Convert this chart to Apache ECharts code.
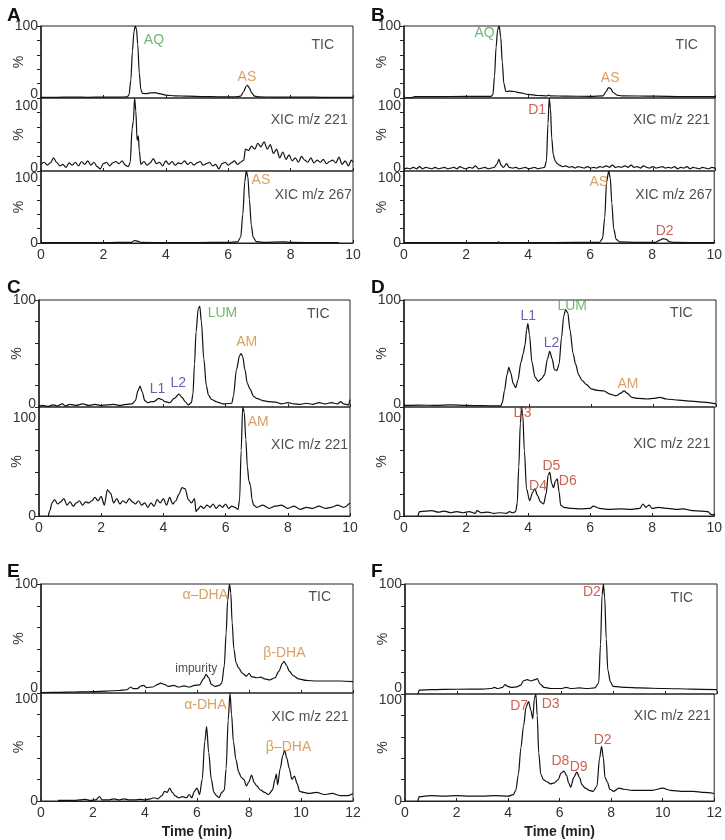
<!DOCTYPE html>
<html><head><meta charset="utf-8">
<script src="https://cdn.jsdelivr.net/npm/echarts@6/dist/echarts.min.js"></script>
<style>html,body{margin:0;padding:0;background:#fff}#c{width:725px;height:840px}</style>
</head><body><div id="c"></div>
<script>
// ---------- DATA (time in min, intensity in %) ----------
const X_TICKS_10 = [0, 2, 4, 6, 8, 10];
const X_TICKS_12 = [0, 2, 4, 6, 8, 10, 12];
const Y_TICKS = [0, 20, 40, 60, 80, 100];

const A_TIC = [[0,1],[0.5,1],[1,1.2],[1.5,1],[2,1.2],[2.5,1.3],[2.75,1.5],[2.82,4],[2.88,25],[2.93,65],[2.98,92],[3.02,100],[3.06,96],[3.1,75],[3.15,35],[3.2,12],[3.25,6.5],[3.35,6],[3.5,7],[3.65,7.5],[3.8,6],[4.0,4],[4.3,3],[4.7,2.5],[5.2,2],[5.7,1.6],[6.2,1.5],[6.4,2.5],[6.5,9],[6.57,16],[6.62,17.5],[6.68,14],[6.75,7],[6.85,2.5],[7,1.5],[7.5,1.3],[8,1.2],[8.5,1.2],[9,1],[9.5,1],[10,1]];
const A_XIC221 = [[0,9],[0.1,12],[0.2,8],[0.3,11],[0.4,18],[0.5,12],[0.6,7],[0.7,9],[0.8,5],[0.9,11],[1.0,8],[1.1,12],[1.2,7],[1.3,13],[1.4,9],[1.5,14],[1.6,8],[1.7,12],[1.8,6],[1.9,3],[2.0,10],[2.1,12],[2.2,7],[2.3,11],[2.4,13],[2.5,10],[2.6,14],[2.7,8],[2.8,6],[2.86,12],[2.92,58],[2.96,68],[3.0,100],[3.04,82],[3.08,42],[3.12,48],[3.15,28],[3.2,9],[3.3,13],[3.4,8],[3.5,11],[3.6,17],[3.7,10],[3.8,12],[3.9,7],[4.0,14],[4.1,9],[4.2,13],[4.3,8],[4.4,11],[4.5,10],[4.6,14],[4.7,9],[4.8,12],[4.9,8],[5.0,11],[5.1,13],[5.2,8],[5.3,10],[5.4,12],[5.5,7],[5.6,9],[5.7,3],[5.8,10],[5.9,12],[6.0,8],[6.1,11],[6.2,14],[6.3,9],[6.4,12],[6.5,15],[6.55,30],[6.65,28],[6.75,34],[6.85,30],[6.95,38],[7.05,33],[7.15,40],[7.25,30],[7.35,36],[7.45,24],[7.55,30],[7.65,18],[7.75,26],[7.85,16],[7.95,22],[8.05,14],[8.15,18],[8.25,12],[8.35,20],[8.45,15],[8.55,12],[8.65,18],[8.75,11],[8.85,15],[8.95,12],[9.05,16],[9.15,10],[9.25,13],[9.35,15],[9.45,11],[9.55,19],[9.65,9],[9.75,14],[9.85,7],[9.95,15],[10,12]];
const A_XIC267 = [[0,0.5],[1,0.5],[2,0.5],[2.9,1],[3.0,3.5],[3.1,2.5],[3.2,0.8],[4,0.6],[5,0.7],[6,0.8],[6.3,1.5],[6.4,8],[6.47,40],[6.53,85],[6.58,100],[6.63,92],[6.68,60],[6.74,25],[6.8,8],[6.9,2],[7.1,1],[7.8,1.5],[8,0.8],[9,0.6],[9.55,0.5]];

const B_TIC = [[0,0],[0.25,0.5],[0.35,2],[1,2],[2,2.2],[2.8,2.3],[2.86,5],[2.91,30],[2.96,70],[3.01,95],[3.06,100],[3.11,85],[3.16,50],[3.21,20],[3.28,9],[3.4,9.5],[3.55,9],[3.7,7.5],[4.0,5],[4.3,3.5],[4.6,3],[4.65,4],[4.7,3],[5.2,2.5],[6.0,2.3],[6.4,3],[6.5,9],[6.58,14.5],[6.65,13],[6.72,8],[6.85,4],[7,3],[8,2.5],[9,2],[10,2]];
const B_XIC221 = [[0,3],[0.1,4],[0.2,3],[0.3,5],[0.4,3],[0.5,6],[0.6,3],[0.7,5],[0.8,4],[0.9,3],[1.0,5],[1.1,3],[1.2,4],[1.3,5],[1.4,3],[1.5,4],[1.6,5],[1.7,3],[1.8,6],[1.9,4],[2.0,3],[2.1,5],[2.2,4],[2.3,7],[2.4,3],[2.5,4],[2.6,5],[2.7,3],[2.8,4],[2.9,5],[2.98,9],[3.05,16],[3.12,8],[3.2,5],[3.3,10],[3.38,5],[3.5,4],[3.6,5],[3.7,3],[3.8,4],[3.9,5],[4.0,3],[4.1,4],[4.2,5],[4.3,3],[4.4,4],[4.52,5],[4.58,14],[4.63,65],[4.67,100],[4.71,85],[4.75,45],[4.8,22],[4.86,14],[4.93,10],[5.0,8],[5.1,6],[5.2,7],[5.3,5],[5.4,6],[5.5,4],[5.6,6],[5.7,5],[5.8,4],[5.9,6],[6.0,4],[6.1,5],[6.2,4],[6.3,6],[6.4,5],[6.5,7],[6.6,5],[6.7,8],[6.8,5],[6.9,6],[7.0,5],[7.1,7],[7.2,5],[7.3,8],[7.4,5],[7.5,6],[7.6,4],[7.7,7],[7.8,5],[7.9,4],[8.0,6],[8.1,4],[8.2,5],[8.3,6],[8.4,4],[8.5,5],[8.6,4],[8.7,6],[8.8,3],[8.9,5],[9.0,4],[9.1,6],[9.2,3],[9.3,5],[9.4,4],[9.5,3],[9.6,5],[9.7,4],[9.8,3],[9.9,5],[10,4]];
const B_XIC267 = [[0,0.5],[3.0,0.5],[3.05,1.5],[3.1,0.5],[4.8,0.7],[6.3,1],[6.4,6],[6.47,35],[6.53,85],[6.6,100],[6.65,90],[6.7,55],[6.76,20],[6.84,5],[6.95,1.5],[7.5,0.8],[8.1,1],[8.25,4],[8.35,6],[8.45,5],[8.55,2],[8.7,0.8],[10,0.5]];

const C_TIC = [[0,0.5],[0.1,1.5],[0.3,0.5],[0.45,2],[0.6,1],[0.75,3],[0.85,1],[1.0,2.5],[1.2,1.5],[1.4,3],[1.6,1.5],[1.8,2.5],[2.0,1.5],[2.2,2],[2.4,2.5],[2.6,1.5],[2.8,2.5],[3.0,3],[3.1,6],[3.18,15],[3.25,19.5],[3.32,14],[3.4,6],[3.5,4],[3.6,5],[3.7,5],[3.85,8],[3.95,7],[4.05,5],[4.2,4],[4.35,8],[4.5,12],[4.6,9],[4.7,5],[4.8,2],[4.9,4],[4.95,12],[5.0,40],[5.05,70],[5.12,92],[5.17,94],[5.22,80],[5.3,45],[5.38,20],[5.45,11],[5.55,7],[5.7,5],[5.8,4],[5.9,3],[6.0,3],[6.2,3.5],[6.25,10],[6.35,35],[6.45,48],[6.5,50],[6.55,47],[6.62,35],[6.7,22],[6.78,17],[6.9,10],[7.0,8],[7.2,6],[7.4,5],[7.6,4.5],[7.8,3],[8.0,4],[8.2,3],[8.4,2.5],[8.6,3.5],[8.8,2.5],[9.0,4],[9.2,3],[9.4,4],[9.6,3],[9.7,5],[9.8,3],[9.95,2],[10,7]];
const C_XIC221 = [[0.3,0],[0.35,5],[0.42,12],[0.5,15],[0.6,11],[0.7,13],[0.8,16],[0.9,10],[1.0,13],[1.1,9],[1.2,12],[1.3,14],[1.4,10],[1.5,13],[1.6,12],[1.7,14],[1.8,17],[1.9,14],[2.0,18],[2.1,10],[2.2,24],[2.3,21],[2.4,12],[2.5,16],[2.6,11],[2.7,14],[2.8,12],[2.9,16],[3.0,13],[3.1,11],[3.2,14],[3.3,10],[3.4,12],[3.5,8],[3.6,12],[3.7,9],[3.8,15],[3.9,12],[4.0,16],[4.1,10],[4.2,17],[4.3,11],[4.4,14],[4.5,20],[4.6,26],[4.7,25],[4.8,15],[4.9,12],[5.0,16],[5.05,4],[5.1,6],[5.2,9],[5.3,7],[5.4,10],[5.5,8],[5.6,11],[5.7,7],[5.8,10],[5.9,8],[6.0,11],[6.1,7],[6.2,9],[6.3,8],[6.4,6],[6.45,15],[6.5,60],[6.55,100],[6.6,95],[6.65,70],[6.7,45],[6.75,32],[6.8,28],[6.85,15],[6.9,10],[7.0,8],[7.2,10],[7.4,7],[7.6,9],[7.8,10],[8.0,7],[8.2,9],[8.4,6],[8.6,8],[8.8,7],[9.0,9],[9.2,7],[9.4,8],[9.6,10],[9.8,8],[10,12]];

const D_TIC = [[0,1.5],[0.5,1.8],[1,1.5],[1.5,2],[2,1.5],[2.5,1.2],[3.0,1],[3.1,1],[3.15,4],[3.22,15],[3.3,30],[3.36,37],[3.42,32],[3.5,22],[3.58,18],[3.65,25],[3.75,42],[3.82,50],[3.88,58],[3.93,72],[3.97,78],[4.02,68],[4.1,42],[4.2,28],[4.3,24],[4.4,26],[4.5,30],[4.6,45],[4.67,52],[4.75,45],[4.82,35],[4.9,34],[4.97,40],[5.05,65],[5.12,85],[5.18,91],[5.25,88],[5.32,72],[5.42,50],[5.5,40],[5.6,30],[5.7,25],[5.85,21],[6.0,17],[6.2,15.5],[6.4,15],[6.6,12],[6.8,10.5],[6.95,13],[7.05,15],[7.15,13],[7.3,9],[7.5,8],[7.8,7.5],[8.0,8],[8.2,9],[8.4,7.5],[8.8,6.5],[9.2,5.5],[9.6,4.5],[10,3]];
const D_XIC221 = [[0.45,0],[0.5,4],[0.7,4.5],[0.9,5],[1.1,3.5],[1.3,4.5],[1.5,3],[1.7,4],[1.9,3],[2.1,4],[2.3,2.5],[2.35,5],[2.5,3],[2.7,3.5],[2.9,2.5],[3.1,3],[3.3,2.5],[3.4,4],[3.5,3],[3.6,4],[3.65,12],[3.7,45],[3.75,85],[3.79,100],[3.83,92],[3.88,60],[3.95,25],[4.05,14],[4.15,22],[4.22,25],[4.3,19],[4.4,13],[4.5,11],[4.58,20],[4.65,38],[4.7,40],[4.76,30],[4.82,26],[4.88,32],[4.94,34],[5.0,22],[5.05,10],[5.15,8],[5.4,7],[5.7,6.5],[6.0,7],[6.1,9],[6.3,7],[6.6,6],[7.0,6.5],[7.3,6],[7.6,7],[7.7,11],[7.8,8],[7.9,10],[8.0,7],[8.2,8],[8.5,7],[8.8,6],[9.0,6.5],[9.3,5],[9.6,4.5],[9.8,4],[9.9,1.5],[10,1]];

const E_TIC = [[0,0.3],[0.5,0.5],[1,0.8],[1.5,1],[2,1.3],[2.5,1.8],[3,2.3],[3.3,3],[3.45,5.5],[3.55,4],[3.7,4],[3.85,6.5],[3.95,7],[4.05,5],[4.3,5.5],[4.5,8],[4.6,9],[4.75,8],[4.9,6],[5.1,7],[5.3,5.5],[5.5,6.5],[5.7,5.5],[5.9,7],[6.1,7.5],[6.25,13],[6.35,17],[6.45,14],[6.55,8],[6.7,6],[6.85,7],[6.95,9],[7.05,25],[7.12,55],[7.18,85],[7.25,100],[7.3,92],[7.35,65],[7.42,40],[7.5,28],[7.6,23],[7.75,18],[7.9,15.5],[8.0,18],[8.1,15],[8.3,14],[8.45,14.5],[8.6,13],[8.8,12],[9.0,14],[9.15,20],[9.28,27],[9.35,29],[9.45,25],[9.55,20],[9.7,16],[9.9,13],[10.2,11.5],[10.6,11],[11,11],[11.5,11],[12,10.5]];
const E_XIC221 = [[0.65,0.5],[1.3,0.5],[1.5,1],[1.7,1.5],[1.9,0.5],[2.1,1],[2.25,4],[2.35,1],[2.6,1],[2.8,2],[3.0,1],[3.2,2],[3.4,1],[3.6,1],[3.8,1.5],[4.0,1],[4.2,2],[4.35,3],[4.5,2],[4.65,5],[4.75,9],[4.85,8],[4.95,12],[5.05,8],[5.15,5],[5.3,3],[5.45,4],[5.6,3],[5.7,6],[5.8,3],[5.9,9],[6.0,12],[6.1,6],[6.2,20],[6.3,55],[6.37,69],[6.45,45],[6.55,20],[6.65,8],[6.75,5],[6.85,3],[6.95,8],[7.05,10],[7.12,30],[7.2,75],[7.27,100],[7.33,80],[7.4,55],[7.5,38],[7.6,27],[7.7,22],[7.8,20],[7.9,14],[8.0,18],[8.1,24],[8.2,17],[8.3,14],[8.45,10],[8.6,8],[8.75,6],[8.9,10],[9.0,20],[9.05,25],[9.1,15],[9.2,30],[9.3,42],[9.37,47],[9.45,40],[9.55,30],[9.65,20],[9.75,23],[9.85,16],[9.95,9],[10.1,8],[10.3,7],[10.6,8],[10.9,6],[11.2,7],[11.5,5],[11.8,5],[12,7]];

const F_TIC = [[0.5,0],[0.55,3.5],[1,4],[2,4.3],[3,4.5],[3.3,5],[3.45,6],[3.55,5],[3.75,6],[3.85,8.5],[3.95,7],[4.1,6],[4.3,6.5],[4.45,8],[4.55,12],[4.7,13],[4.85,12],[5.0,13],[5.08,14],[5.2,9],[5.35,6],[5.6,5],[6.0,5],[6.2,6],[6.4,5],[6.7,5.5],[7.0,5],[7.3,5.5],[7.45,10],[7.52,45],[7.58,90],[7.63,100],[7.68,88],[7.74,50],[7.8,22],[7.9,11],[8.0,7],[8.5,6],[9,5.5],[10,5],[11,4.5],[12,4]];
const F_XIC221 = [[0.5,0],[0.55,4],[1,5],[1.5,4.5],[2,5],[2.5,4.5],[3,4.5],[3.5,5],[4,4.5],[4.2,6],[4.3,10],[4.4,25],[4.5,50],[4.6,70],[4.7,88],[4.8,93],[4.88,85],[4.96,77],[5.02,96],[5.08,100],[5.13,80],[5.19,45],[5.27,25],[5.37,20],[5.5,18],[5.65,16],[5.8,17],[5.95,20],[6.05,26],[6.17,28],[6.27,24],[6.35,17],[6.43,13],[6.55,22],[6.67,27],[6.77,22],[6.87,15],[7.0,12],[7.15,10],[7.3,9],[7.45,14],[7.55,40],[7.63,51],[7.7,40],[7.76,22],[7.85,18],[7.95,11],[8.1,9],[8.3,12],[8.5,11],[8.8,10],[9.2,10],[9.6,10],[10.0,12],[10.3,10],[10.8,9],[11.2,9],[11.6,8],[12,7]];

// ---------- LAYOUT ----------
const COL = {g:'#4aa64a', o:'#d08a3a', b:'#3c3c9a', r:'#c0392b', k:'#222'};
const panels = [
 {letter:'A', lx:2, ly:1, left:41, width:312, xmax:10, xt:X_TICKS_10, rows:[
  {top:26, bottom:98, data:A_TIC, labs:[5.5,100], ann:[[3.62,80,'AQ','g'],[6.6,29,'AS','o'],[9.03,73,'TIC','k']]},
  {top:98, bottom:171, data:A_XIC221, labs:[4,89], ann:[[9.83,70,'XIC m/z 221','k','right']]},
  {top:171, bottom:243, data:A_XIC267, labs:[0,90], ann:[[7.05,87,'AS','o'],[9.96,67,'XIC m/z 267','k','right']]}]},
 {letter:'B', lx:366, ly:1, left:404, width:311, xmax:10, xt:X_TICKS_10, rows:[
  {top:26, bottom:98, data:B_TIC, labs:[5.5,100], ann:[[2.59,90,'AQ','g'],[6.63,28,'AS','o'],[9.09,73,'TIC','k']]},
  {top:98, bottom:171, data:B_XIC221, labs:[4,89], ann:[[4.28,84,'D1','r'],[9.84,70,'XIC m/z 221','k','right']]},
  {top:171, bottom:243, data:B_XIC267, labs:[0,90], ann:[[6.28,85,'AS','o'],[8.4,17,'D2','r'],[9.94,67,'XIC m/z 267','k','right']]}]},
 {letter:'C', lx:2, ly:273, left:39, width:311, xmax:10, xt:X_TICKS_10, rows:[
  {top:300, bottom:407, data:C_TIC, labs:[3,100], ann:[[5.9,88,'LUM','g'],[8.98,87,'TIC','k'],[6.68,61,'AM','o'],[3.81,17,'L1','b'],[4.48,22.5,'L2','b']]},
  {top:407, bottom:516, data:C_XIC221, labs:[0,90], ann:[[7.05,86,'AM','o'],[9.94,65,'XIC m/z 221','k','right']]}]},
 {letter:'D', lx:366, ly:273, left:404, width:312, xmax:10, xt:X_TICKS_10, rows:[
  {top:300, bottom:407, data:D_TIC, labs:[2.5,100], ann:[[3.98,85,'L1','b'],[4.73,60,'L2','b'],[5.39,94,'LUM','g'],[8.89,87.6,'TIC','k'],[7.18,21,'AM','o']]},
  {top:407, bottom:516, data:D_XIC221, labs:[0,90], ann:[[3.82,94,'D3','r'],[4.32,27,'D4','r'],[4.75,46,'D5','r'],[5.28,32,'D6','r'],[9.87,65.6,'XIC m/z 221','k','right']]}]},
 {letter:'E', lx:2, ly:557, left:41, width:312, xmax:12, xt:X_TICKS_12, time:true, rows:[
  {top:584, bottom:693, data:E_TIC, labs:[4.5,100], ann:[[6.32,90,'α–DHA','o'],[10.72,88.4,'TIC','k'],[9.36,36.4,'β-DHA','o'],[5.97,22.6,'impurity','k','center',12]]},
  {top:693, bottom:803, data:E_XIC221, labs:[0,94.5], ann:[[6.32,88.5,'α-DHA','o'],[11.83,78,'XIC m/z 221','k','right'],[9.52,49.7,'β–DHA','o']]}]},
 {letter:'F', lx:366, ly:557, left:405, width:312, xmax:12, xt:X_TICKS_12, time:true, rows:[
  {top:584, bottom:694, data:F_TIC, labs:[5.5,100], ann:[[7.19,92.4,'D2','r'],[10.65,87,'TIC','k']]},
  {top:694, bottom:804, data:F_XIC221, labs:[0,94], ann:[[4.43,88.6,'D7','r'],[5.65,90.9,'D3','r'],[6.03,37,'D8','r'],[6.74,31.5,'D9','r'],[7.67,56.6,'D2','r'],[11.87,79.4,'XIC m/z 221','k','right']]}]}
];

// ---------- BUILD OPTION ----------
const FONT = 'Liberation Sans, Arial, Helvetica, sans-serif';
const grid = [], xAxis = [], yAxis = [], series = [], title = [];
let gi = 0;
panels.forEach(p => {
  title.push({text:p.letter, left:p.lx, top:p.ly, textStyle:{fontSize:19, fontWeight:'bold', color:'#111', fontFamily:FONT}});
  p.rows.forEach((r, ri) => {
    const last = ri === p.rows.length - 1;
    grid.push({left:p.left, top:r.top, width:p.width, height:r.bottom - r.top, show:true, borderColor:'#222', borderWidth:1, containLabel:false});
    xAxis.push({
      type:'value', gridIndex:gi, min:0, max:p.xmax,
      axisLine:{show:last, lineStyle:{color:'#222', width:1}},
      axisTick:{show:true, inside:true, length:3, customValues:p.xt, lineStyle:{color:'#222'}},
      axisLabel:{show:last, customValues:p.xt, margin:5, fontSize:14, color:'#333', fontFamily:FONT},
      splitLine:{show:false},
      name: (last && p.time) ? 'Time (min)' : '',
      nameLocation:'middle', nameGap:24, nameMoveOverlap:false,
      nameTextStyle:{fontSize:14, fontWeight:'bold', color:'#222', fontFamily:FONT}
    });
    yAxis.push({
      type:'value', gridIndex:gi, min:0, max:100,
      axisLine:{show:true, lineStyle:{color:'#222', width:1.5}},
      axisTick:{show:true, inside:false, length:4, customValues:Y_TICKS, lineStyle:{color:'#222'}},
      axisLabel:{show:true, customValues:r.labs, formatter:v => (v > 50 ? '100' : '0'), margin:3, fontSize:14, color:'#333', fontFamily:FONT},
      splitLine:{show:false},
      name:'%', nameLocation:'middle', nameRotate:90, nameGap:15, nameMoveOverlap:false,
      nameTextStyle:{fontSize:14, color:'#333', fontFamily:FONT}
    });
    series.push({
      type:'line', xAxisIndex:gi, yAxisIndex:gi, data:r.data, showSymbol:false, symbol:'none',
      smooth:0.3, smoothMonotone:'x', lineStyle:{color:'#111', width:1.2}, silent:true, animation:false
    });
    series.push({
      type:'scatter', xAxisIndex:gi, yAxisIndex:gi, symbolSize:0, silent:true, animation:false, z:10,
      data:r.ann.map(a => ({
        value:[a[0], a[1]],
        label:{show:true, formatter:a[2], position:'inside', align:a[4] || 'center', verticalAlign:'middle',
               color:COL[a[3]], fontSize:a[5] || 14, fontFamily:FONT}
      }))
    });
    gi++;
  });
});

const chart = echarts.init(document.getElementById('c'), null, {renderer:'canvas'});
chart.setOption({backgroundColor:'#fff', animation:false, title, grid, xAxis, yAxis, series});
</script></body></html>
